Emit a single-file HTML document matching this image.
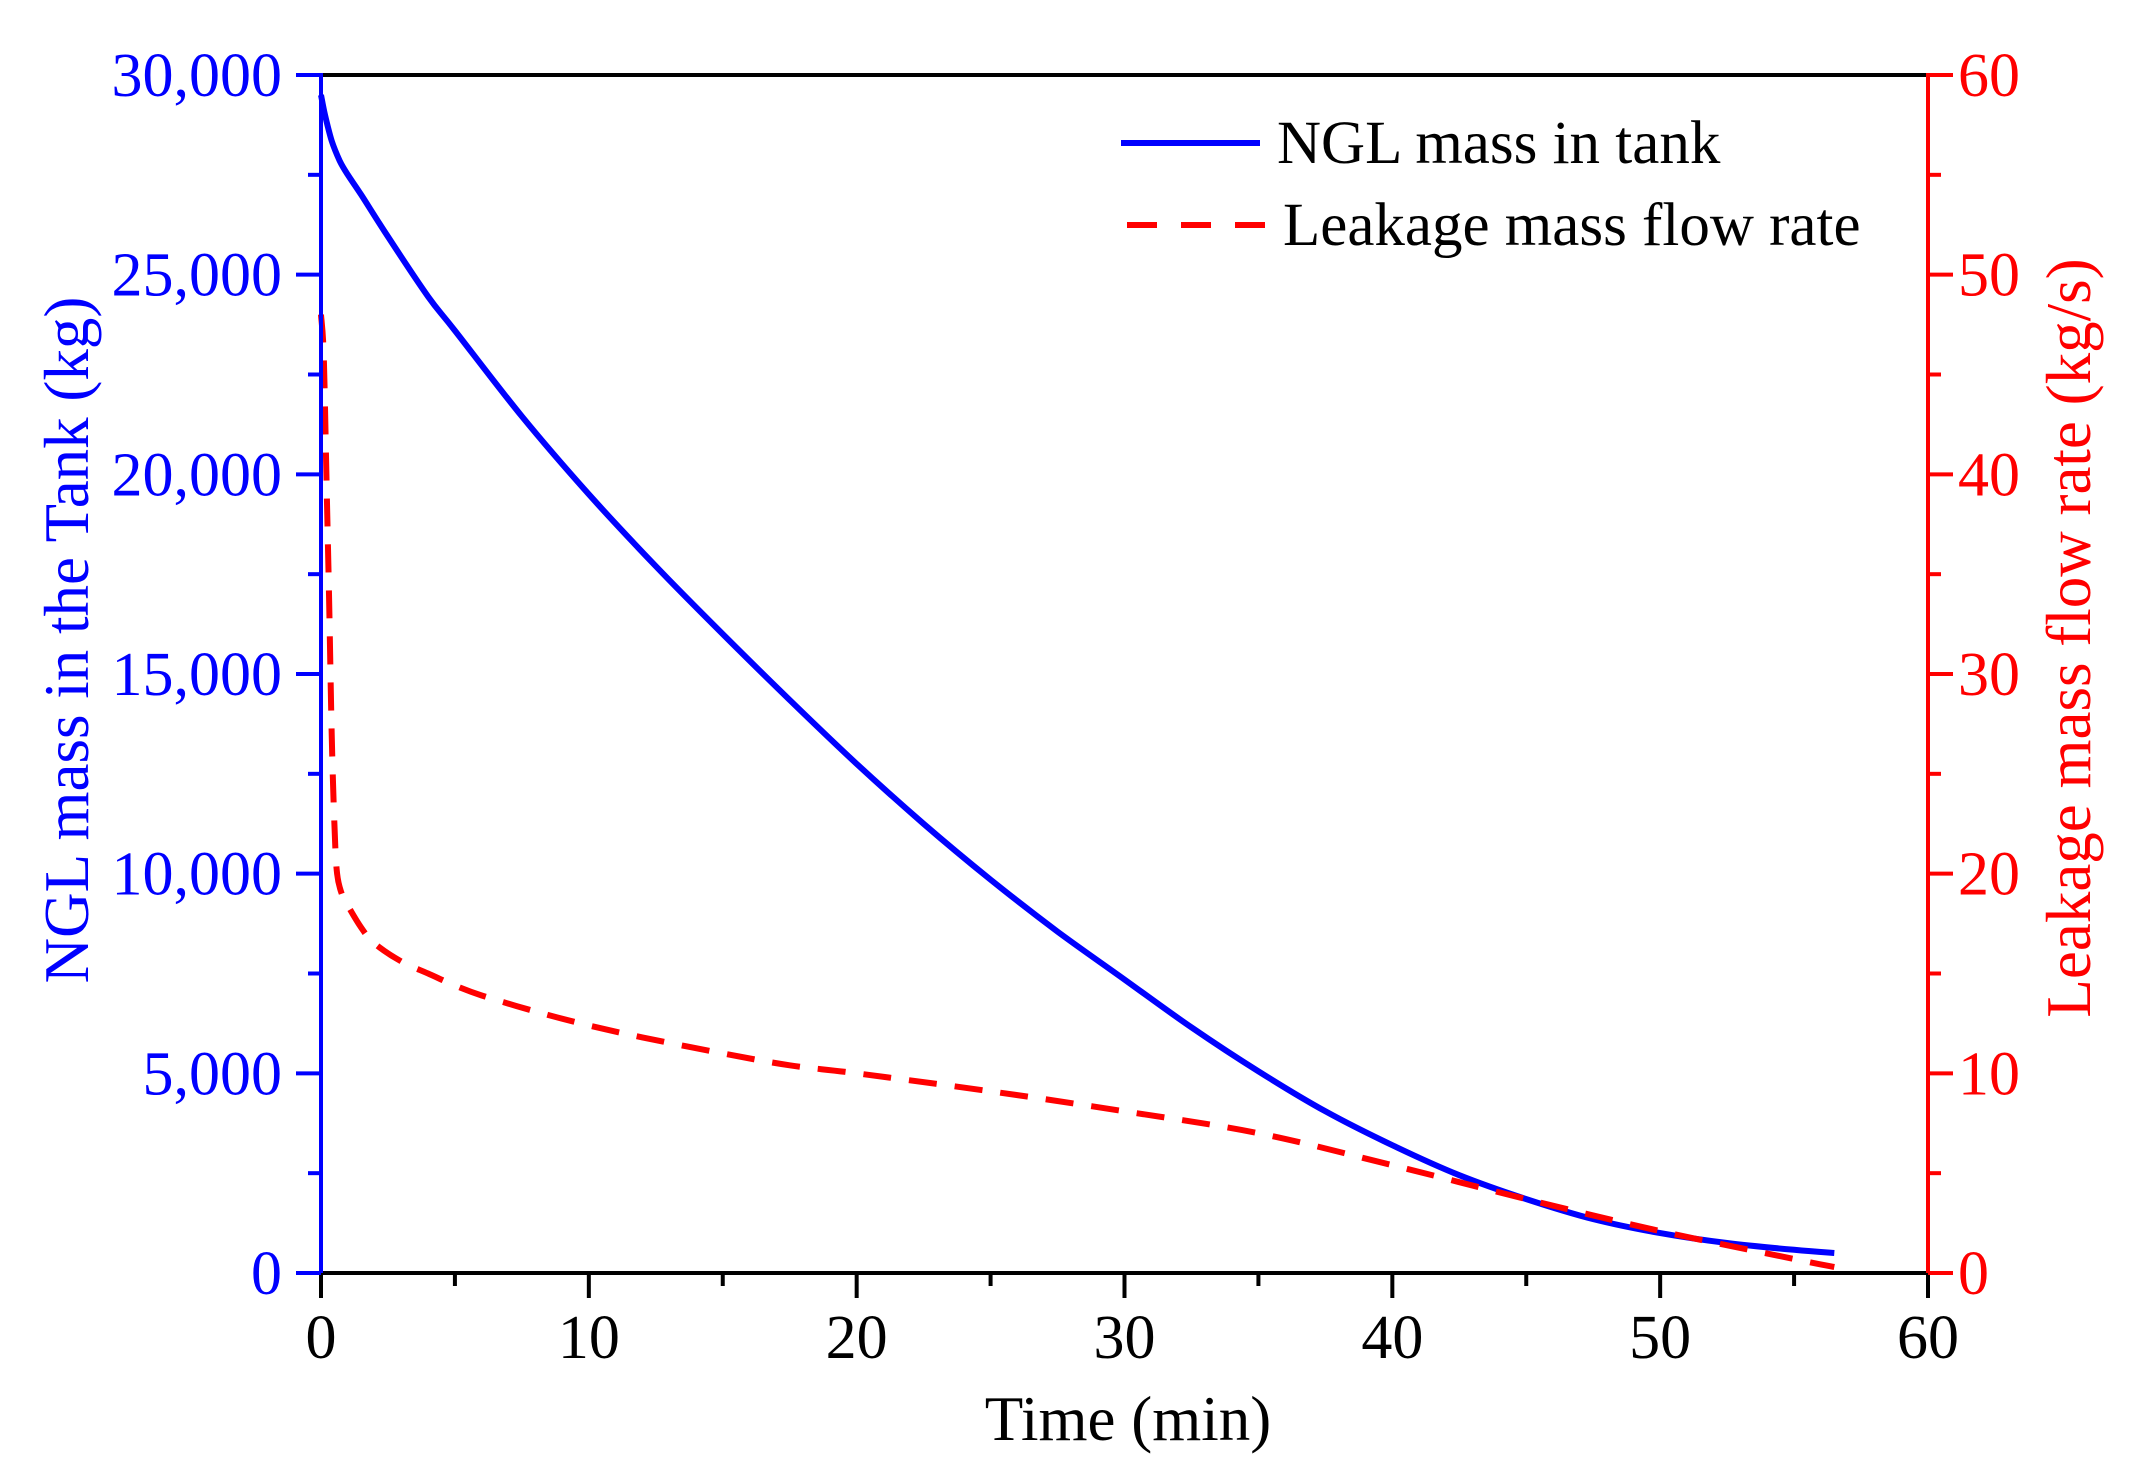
<!DOCTYPE html>
<html><head><meta charset="utf-8"><style>
html,body{margin:0;padding:0;background:#fff;}
svg{display:block;font-family:"Liberation Serif",serif;}
</style></head><body>
<svg id="chart" width="2139" height="1473" viewBox="0 0 2139 1473" xmlns="http://www.w3.org/2000/svg"></svg>
<script>
const massTimes = [0,0.15,0.4,0.7,1,1.5,2.5,4,5,7.5,10,12.5,15,17.5,20,22.5,25,27.5,30,32.5,35,37.5,40,42.5,45,47.5,50,52.5,55,56.5];
const massValues = [29500,29000,28350,27850,27500,27000,25950,24450,23600,21450,19500,17700,16000,14350,12750,11250,9850,8550,7350,6150,5050,4050,3200,2450,1850,1350,1000,750,580,500];
const flowTimes = [0,0.1,0.2,0.3,0.4,0.5,0.6,0.8,1,1.5,2,3,4,5,6,8,10,12,15,17.5,20,25,30,35,40,45,50,55,56.5];
const flowValues = [48,46,40,34,27,22.5,20,18.9,18.4,17.3,16.5,15.6,15,14.4,13.9,13.1,12.4,11.8,11,10.4,10,9.1,8.1,7,5.4,3.7,2.1,0.7,0.3];
const xTicks = [0,10,20,30,40,50,60];
const yLeftTicks = [0,5000,10000,15000,20000,25000,30000];
const yLeftLabels = ["0","5,000","10,000","15,000","20,000","25,000","30,000"];
const yRightTicks = [0,10,20,30,40,50,60];

const PL=321,PR=1928,PT=75,PB=1273;
const sx=v=>PL+(v/60)*(PR-PL);
const syL=v=>PB-(v/30000)*(PB-PT);
const syR=v=>PB-(v/60)*(PB-PT);
const svgEl=document.getElementById('chart');
const NS='http://www.w3.org/2000/svg';
function mk(tag,attrs,parent){const e=document.createElementNS(NS,tag);for(const k in attrs)e.setAttribute(k,attrs[k]);(parent||svgEl).appendChild(e);return e;}
function smooth(pts){let s='M'+pts[0][0].toFixed(1)+' '+pts[0][1].toFixed(1);
for(let i=0;i<pts.length-1;i++){const p0=pts[Math.max(0,i-1)],p1=pts[i],p2=pts[i+1],p3=pts[Math.min(pts.length-1,i+2)];
const c1=[p1[0]+(p2[0]-p0[0])/6,p1[1]+(p2[1]-p0[1])/6],c2=[p2[0]-(p3[0]-p1[0])/6,p2[1]-(p3[1]-p1[1])/6];
s+=' C'+c1.map(v=>v.toFixed(1)).join(' ')+' '+c2.map(v=>v.toFixed(1)).join(' ')+' '+p2[0].toFixed(1)+' '+p2[1].toFixed(1);}
return s;}

const blueLine=mk('path',{d:smooth(massTimes.map((t,i)=>[sx(t),syL(massValues[i])])),fill:'none',stroke:'#0000ff','stroke-width':6,'stroke-linejoin':'round'});


const redLine=mk('path',{d:smooth(flowTimes.map((t,i)=>[sx(t),syR(flowValues[i])])),fill:'none',stroke:'#ff0000','stroke-width':6,'stroke-dasharray':'28 18'});



const topFrame=mk('line',{x1:PL,y1:PT,x2:PR,y2:PT,stroke:'#000','stroke-width':4});


const xAxisLine=mk('line',{x1:PL,y1:PB,x2:PR,y2:PB,stroke:'#000','stroke-width':4});


const leftAxisLine=mk('line',{x1:PL,y1:PT-2,x2:PL,y2:PB+2,stroke:'#0000ff','stroke-width':4});


const rightAxisLine=mk('line',{x1:PR,y1:PT-2,x2:PR,y2:PB+2,stroke:'#ff0000','stroke-width':4});



for(let v=0;v<=60;v+=5){const major=v%10===0;mk('line',{x1:sx(v),y1:PB,x2:sx(v),y2:PB+(major?25:13),stroke:'#000','stroke-width':4});}
xTicks.forEach(v=>{const t=mk('text',{x:sx(v),y:1358,'font-size':62,'text-anchor':'middle',fill:'#000'});t.textContent=v;

});
for(let v=0;v<=30000;v+=2500){const major=v%5000===0;mk('line',{x1:PL-(major?25:13),y1:syL(v),x2:PL,y2:syL(v),stroke:'#0000ff','stroke-width':4});}
yLeftTicks.forEach((v,i)=>{const t=mk('text',{x:282,y:syL(v)+21,'font-size':62,'text-anchor':'end',fill:'#0000ff'});t.textContent=yLeftLabels[i];

});
for(let v=0;v<=60;v+=5){const major=v%10===0;mk('line',{x1:PR,y1:syR(v),x2:PR+(major?25:13),y2:syR(v),stroke:'#ff0000','stroke-width':4});}
yRightTicks.forEach(v=>{const t=mk('text',{x:1958,y:syR(v)+21,'font-size':62,'text-anchor':'start',fill:'#ff0000'});t.textContent=v;

});

let tt=mk('text',{x:1128,y:1440,'font-size':63,'text-anchor':'middle',fill:'#000'});tt.textContent='Time (min)';


tt=mk('text',{x:0,y:0,'font-size':63,'text-anchor':'middle',fill:'#0000ff',transform:'translate(88,640) rotate(-90)'});tt.textContent='NGL mass in the Tank (kg)';


tt=mk('text',{x:0,y:0,'font-size':63,'text-anchor':'middle',fill:'#ff0000',transform:'translate(2090,638) rotate(-90)'});tt.textContent='Leakage mass flow rate (kg/s)';



const lg=mk('g',{});


mk('line',{x1:1121,y1:143,x2:1260,y2:143,stroke:'#0000ff','stroke-width':6},lg);
tt=mk('text',{x:1277,y:163,'font-size':61,fill:'#000'},lg);tt.textContent='NGL mass in tank';


mk('line',{x1:1127,y1:225,x2:1265,y2:225,stroke:'#ff0000','stroke-width':6,'stroke-dasharray':'30 24'},lg);
tt=mk('text',{x:1283,y:245,'font-size':61,fill:'#000'},lg);tt.textContent='Leakage mass flow rate';


</script>
</body></html>
